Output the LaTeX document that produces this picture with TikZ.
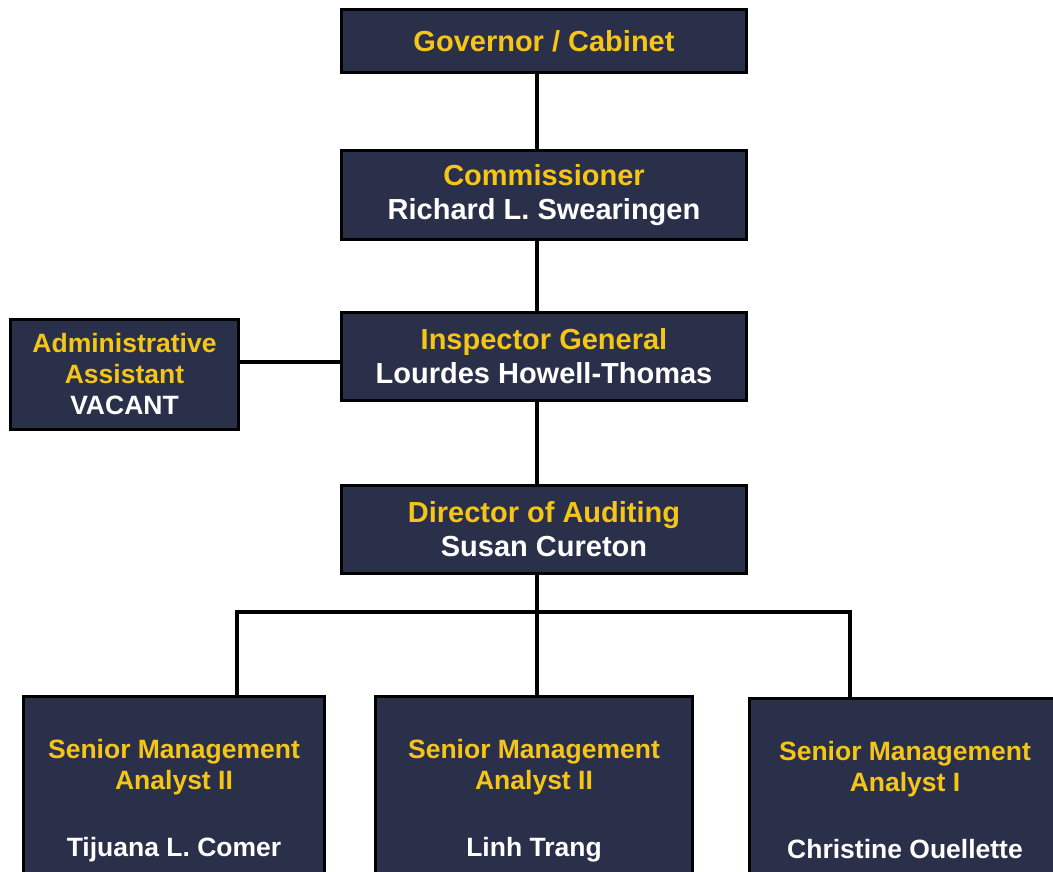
\documentclass[tikz,border=0pt]{standalone}
\usepackage{fontspec}
\setmainfont{Liberation Sans}
\definecolor{OrgNavy}{RGB}{42,47,74}
\definecolor{OrgGold}{RGB}{245,197,24}
\usetikzlibrary{positioning,calc}

\begin{document}
\begin{tikzpicture}[x=1pt,y=-1pt,
  box/.style={draw=black,line width=3pt,fill=OrgNavy,align=center,text=white,inner sep=0pt,
    font=\bfseries\fontsize{29}{34}\selectfont},
  smallbox/.style={box,font=\bfseries\fontsize{26.5}{31}\selectfont},
  link/.style={line width=4pt}]
\useasboundingbox (0,0) rectangle (1053,871);
\clip (0,0) rectangle (1053,871);
% chain of command
\node[box,minimum width=405pt,minimum height=63pt] (gov) at (544,41)
  {\textcolor{OrgGold}{Governor / Cabinet}};
\node[box,minimum width=405pt,minimum height=89pt] (comm) at (544,195)
  {\textcolor{OrgGold}{Commissioner}\\Richard L. Swearingen};
\node[box,minimum width=405pt,minimum height=88pt] (insp) at (544,356.5)
  {\textcolor{OrgGold}{Inspector General}\\Lourdes Howell-Thomas};
\node[box,minimum width=405pt,minimum height=88pt] (dir) at (544,529.5)
  {\textcolor{OrgGold}{Director of Auditing}\\Susan Cureton};
% staff
\node[smallbox,minimum width=228pt,minimum height=110pt] (admin) at (124.5,374.5)
  {\textcolor{OrgGold}{Administrative}\\\textcolor{OrgGold}{Assistant}\\VACANT};
% analysts
\node[smallbox,minimum width=301pt,minimum height=210pt] (sma1) at (174,801)
  {\textcolor{OrgGold}{Senior Management}\\\textcolor{OrgGold}{Analyst II}\\[36pt]Tijuana L. Comer};
\node[smallbox,minimum width=317pt,minimum height=210pt] (sma2) at (534,801)
  {\textcolor{OrgGold}{Senior Management}\\\textcolor{OrgGold}{Analyst II}\\[36pt]Linh Trang};
\node[smallbox,minimum width=311pt,minimum height=204pt] (sma3) at (905,800)
  {\textcolor{OrgGold}{Senior Management}\\\textcolor{OrgGold}{Analyst I}\\[36pt]Christine Ouellette};
% connectors
\coordinate (spine) at (537,0);
\coordinate (aj) at (0,362);
\coordinate (bus) at (537,612);
\coordinate (busL) at (237,612);
\coordinate (busR) at (850,612);
\draw[link] (gov.south -| spine) -- (comm.north -| spine);
\draw[link] (comm.south -| spine) -- (insp.north -| spine);
\draw[link] (insp.south -| spine) -- (dir.north -| spine);
\draw[link] (admin.east |- aj) -- (insp.west |- aj);
\draw[link] (dir.south -| spine) -- (bus) -- (sma2.north -| bus);
\draw[link] (sma1.north -| busL) -- (busL) -- (busR) -- (sma3.north -| busR);
\end{tikzpicture}
\end{document}
